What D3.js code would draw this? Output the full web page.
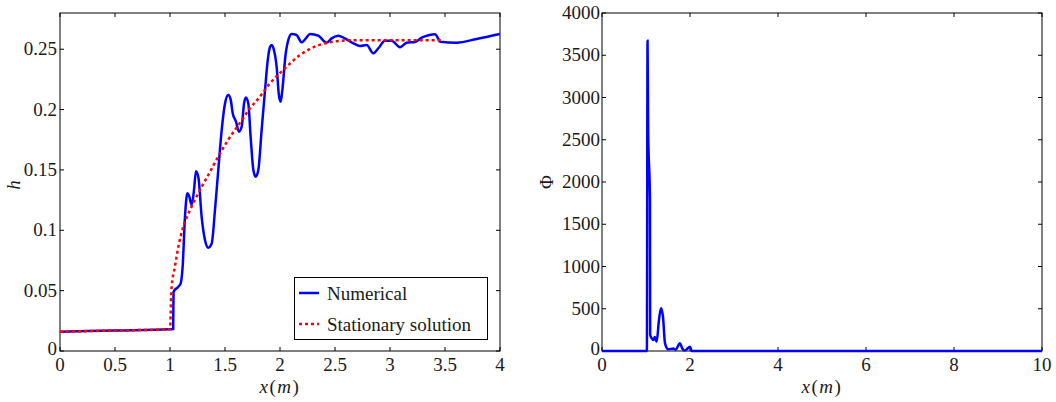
<!DOCTYPE html>
<html><head><meta charset="utf-8">
<script src="https://cdn.jsdelivr.net/npm/d3@7"></script>
<style>
body{margin:0;background:#fff;}
text{font-family:"Liberation Serif","Times New Roman",serif;}
</style></head>
<body>
<svg id="c" width="1056" height="402"></svg>
<script>
// ---- data ----
const numX = [0,0.5,1.0,1.029,1.032,1.076,1.097,1.115,1.136,1.158,1.175,1.197,1.218,1.236,1.258,1.288,1.318,1.348,1.379,1.409,1.439,1.47,1.5,1.53,1.552,1.57,1.6,1.627,1.652,1.673,1.69,1.712,1.733,1.758,1.779,1.803,1.833,1.864,1.89,1.91,1.924,1.94,1.97,1.99,2.006,2.02,2.05,2.08,2.106,2.15,2.197,2.235,2.273,2.348,2.424,2.47,2.53,2.59,2.667,2.727,2.788,2.848,2.894,2.955,3.015,3.091,3.152,3.227,3.288,3.35,3.409,3.44,3.455,3.606,3.788,4.0];
const numH = [0.016,0.017,0.018,0.0182,0.049,0.0533,0.056,0.070,0.111,0.1306,0.128,0.121,0.133,0.149,0.144,0.111,0.092,0.0856,0.089,0.1168,0.150,0.183,0.205,0.212,0.208,0.197,0.19,0.1817,0.186,0.205,0.210,0.205,0.1775,0.150,0.1444,0.150,0.183,0.2162,0.242,0.252,0.2535,0.251,0.235,0.212,0.2065,0.215,0.245,0.259,0.2626,0.2618,0.2557,0.259,0.2626,0.2612,0.2554,0.259,0.2612,0.259,0.2549,0.2527,0.2535,0.2466,0.2508,0.257,0.257,0.2516,0.2554,0.256,0.2595,0.2615,0.2624,0.2585,0.2562,0.2554,0.2585,0.2626];
const statX = [0,0.5,1.0,1.006,1.012,1.045,1.076,1.121,1.182,1.273,1.364,1.455,1.53,1.636,1.727,1.818,1.909,2.03,2.182,2.333,2.485,2.636,3.0,3.47];
const statH = [0.016,0.017,0.018,0.03,0.05,0.070,0.0864,0.103,0.1168,0.1334,0.1485,0.1638,0.175,0.189,0.201,0.2107,0.2218,0.2328,0.2452,0.2527,0.2562,0.2574,0.2574,0.2574];
const phiX = [0,1.02,1.035,1.05,1.09,1.095,1.13,1.167,1.2,1.242,1.295,1.341,1.386,1.432,1.508,1.62,1.67,1.773,1.825,1.88,2.0,2.04,10];
const phiV = [0,0,3672,2580,1800,190,150,130,165,110,367,505,406,91,20,30,15,91,30,5,50,0,0];
const hTicks = [0,0.05,0.1,0.15,0.2,0.25];
const xTicksL = [0,0.5,1,1.5,2,2.5,3,3.5,4];
const phiTicks = [0,500,1000,1500,2000,2500,3000,3500,4000];
const xTicksR = [0,2,4,6,8,10];
const legendLabels = ["Numerical","Stationary solution"];

const svg = d3.select("#c");
const FS = 19;
const TXT = "#1a1a1a";

function panel(x0,x1,y0,y1,xd,yd,xt,yt,fmtY,ylab,ylabPos,labGap){
  const x = d3.scaleLinear().domain(xd).range([x0,x1]);
  const y = d3.scaleLinear().domain(yd).range([y1,y0]);
  const g = svg.append("g");
  const tl = 4;
  xt.forEach(v=>{
    g.append("line").attr("x1",x(v)).attr("x2",x(v)).attr("y1",y1).attr("y2",y1-tl).attr("stroke","#000");
    g.append("line").attr("x1",x(v)).attr("x2",x(v)).attr("y1",y0).attr("y2",y0+tl).attr("stroke","#000");
    g.append("text").attr("x",x(v)).attr("y",y1+20).attr("text-anchor","middle").attr("font-size",FS).attr("fill",TXT).text(v);
  });
  yt.forEach(v=>{
    g.append("line").attr("x1",x0).attr("x2",x0+tl).attr("y1",y(v)).attr("y2",y(v)).attr("stroke","#000");
    g.append("line").attr("x1",x1).attr("x2",x1-tl).attr("y1",y(v)).attr("y2",y(v)).attr("stroke","#000");
    g.append("text").attr("x",x0-labGap).attr("y",y(v)+(v===0?4:6)).attr("text-anchor","end").attr("font-size",FS).attr("fill",TXT).text(fmtY(v));
  });
  g.append("rect").attr("x",x0).attr("y",y0).attr("width",x1-x0).attr("height",y1-y0)
    .attr("fill","none").attr("stroke","#000").attr("stroke-width",1);
  const xl = g.append("text").attr("x",(x0+x1)/2).attr("y",393).attr("text-anchor","middle")
    .attr("font-size",19).attr("letter-spacing",1.5).attr("fill",TXT);
  xl.append("tspan").attr("font-style","italic").text("x");
  xl.append("tspan").text("(");
  xl.append("tspan").attr("font-style","italic").text("m");
  xl.append("tspan").text(")");
  g.append("text").attr("transform",`translate(${ylabPos[0]},${ylabPos[1]}) rotate(-90)`)
    .attr("text-anchor","middle").attr("font-size",FS).attr("fill",TXT).attr("font-style",ylab==="h"?"italic":"normal").text(ylab);
  return {x,y,g};
}

// Left panel
const L = panel(60,500,13,351,[0,4],[0,0.28],xTicksL,hTicks,v=>String(v),"h",[20,185],3);
const lineL = d3.line().x(d=>L.x(d[0])).y(d=>L.y(d[1])).curve(d3.curveMonotoneX);
const statData = statX.map((v,i)=>[v,statH[i]]);
const numData = numX.map((v,i)=>[v,numH[i]]);
L.g.append("path").attr("d",lineL(numData)).attr("fill","none").attr("stroke","#0000ff").attr("stroke-width",2.5);
L.g.append("path").attr("d",lineL(statData)).attr("fill","none").attr("stroke","#ff0000").attr("stroke-width",2.5).attr("stroke-dasharray","3,3");

// Legend
const lg = L.g.append("g");
lg.append("rect").attr("x",294.5).attr("y",277.5).attr("width",193).attr("height",62).attr("fill","#fff").attr("stroke","#000");
lg.append("line").attr("x1",299).attr("x2",319).attr("y1",293).attr("y2",293).attr("stroke","#0000ff").attr("stroke-width",2.5);
lg.append("line").attr("x1",299).attr("x2",319).attr("y1",324).attr("y2",324).attr("stroke","#ff0000").attr("stroke-width",2.5).attr("stroke-dasharray","3,3");
lg.append("text").attr("x",327).attr("y",300).attr("font-size",FS).attr("fill",TXT).text(legendLabels[0]);
lg.append("text").attr("x",327).attr("y",331).attr("font-size",FS).attr("fill",TXT).text(legendLabels[1]);

// Right panel
const R = panel(602,1042,13,351,[0,10],[0,4000],xTicksR,phiTicks,v=>String(v),"Φ",[553,182],2);
const lineR = d3.line().x(d=>R.x(d[0])).y(d=>R.y(d[1])).curve(d3.curveMonotoneX);
R.g.append("path").attr("d",lineR(phiX.map((v,i)=>[v,phiV[i]]))).attr("fill","none").attr("stroke","#0000ff").attr("stroke-width",2.5);
</script>
</body></html>
